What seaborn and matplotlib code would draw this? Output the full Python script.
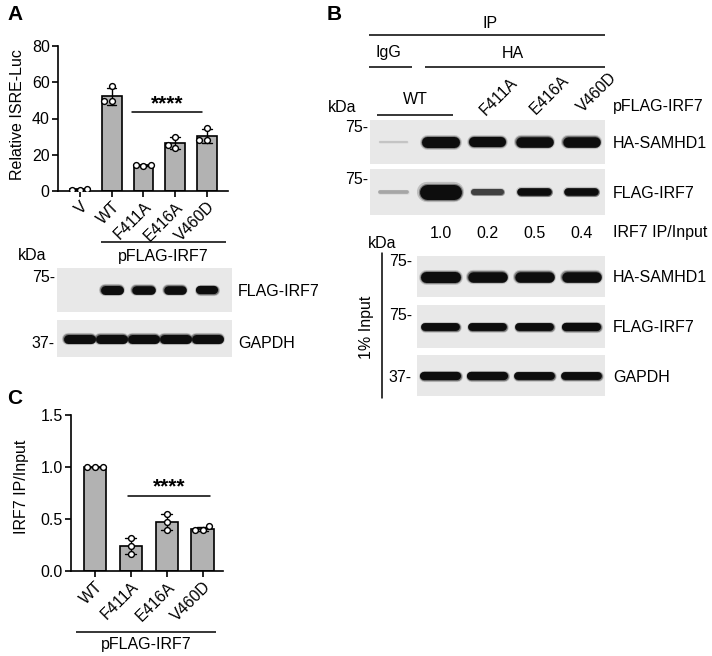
"""
Figure: IRF7 mutants — ISRE reporter, co-IP blots and IP/input quantification.
"""

import matplotlib
matplotlib.use("Agg")  # no display

import matplotlib.pyplot as plt
import numpy as np
import pandas as pd
import seaborn as sns

W, H = 712, 656

# ── Data ────────────────────────────────────────────────────────
# panel A: relative ISRE-Luc, three replicates per construct
luc_groups = ["V", "WT", "F411A", "E416A", "V460D"]
luc_v = [0.7, 1.3, 0.8]
luc_wt = [57.8, 49.5, 49.6]
luc_f411a = [14.2, 14.0, 14.3]
luc_e416a = [30.0, 24.0, 25.2]
luc_v460d = [35.0, 28.2, 28.4]

# panel C: IRF7 IP/input, three replicates
ip_groups = ["WT", "F411A", "E416A", "V460D"]
ip_wt = [1.0, 1.0, 1.0]
ip_f411a = [0.32, 0.24, 0.16]
ip_e416a = [0.55, 0.47, 0.39]
ip_v460d = [0.39, 0.43, 0.39]

# blot band strengths (0 = no band), one value per lane
a_flag_irf7 = [0.0, 1.0, 0.95, 0.95, 0.9]
a_gapdh = [1.0, 1.0, 1.0, 1.0, 1.0]
b_ip_samhd1 = [0.04, 1.0, 0.9, 0.95, 0.95]
b_ip_irf7 = [0.1, 1.0, 0.3, 0.42, 0.42]
b_ratio = ["1.0", "0.2", "0.5", "0.4"]
b_in_samhd1 = [1.0, 0.95, 0.95, 0.95]
b_in_irf7 = [0.85, 0.85, 0.85, 0.9]
b_in_gapdh = [0.9, 0.9, 0.85, 0.85]

BAR_GREY = "#b2b2b2"
BLOT_BG = "#e8e8e8"
FS = 11.5

sns.set_theme(style="ticks")
plt.rcParams["font.family"] = ["Liberation Sans", "DejaVu Sans"]
plt.rcParams.update({
    "axes.linewidth": 1.2,
    "axes.edgecolor": "black",
    "text.color": "black",
    "axes.labelcolor": "black",
    "xtick.color": "black",
    "ytick.color": "black",
})


def rect(x0, y0, x1, y1):
    """Pixel box (top-left origin) -> figure fraction rect."""
    return [x0 / W, 1 - y1 / H, (x1 - x0) / W, (y1 - y0) / H]


def long_form(groups, reps):
    rows = []
    for g, vals in zip(groups, reps):
        rows += [{"group": g, "value": v} for v in vals]
    return pd.DataFrame(rows)


def bar_panel(ax, df, order, ylim, yticks, ylabels):
    sns.barplot(
        data=df, x="group", y="value", order=order, color=BAR_GREY,
        edgecolor="black", linewidth=1.2, width=0.62, errorbar="sd",
        capsize=0.3, err_kws={"color": "black", "linewidth": 1.0}, ax=ax,
    )
    sns.swarmplot(
        data=df, x="group", y="value", order=order, color="white",
        edgecolor="black", linewidth=1.0, size=4.2, ax=ax,
    )
    ax.set_ylim(*ylim)
    ax.set_yticks(yticks)
    ax.set_yticklabels(ylabels, fontsize=FS)
    ax.set_xticks(range(len(order)))
    ax.set_xticklabels(order, rotation=45, ha="right", rotation_mode="anchor",
                       fontsize=FS)
    ax.set_xlabel("")
    ax.set_ylabel("")
    ax.tick_params(length=4, width=1.2, color="black", pad=2)
    sns.despine(ax=ax)
    ax.set_facecolor("none")


def blot(box, levels, thick_px, xlim, width=0.62):
    ax = fig.add_axes(rect(*box))
    ax.set_facecolor(BLOT_BG)
    for i, v in enumerate(levels):
        if v <= 0:
            continue
        lw = thick_px * 0.72 * (0.15 + 0.85 * v)
        shade = max(0.05, 0.85 - 0.8 * min(1.0, v * 2.5))
        for scale, a in [(1.35, 0.18), (1.15, 0.4), (1.0, 1.0)]:
            ax.hlines(0.5, i - width / 2, i + width / 2, colors=str(shade),
                      linewidths=lw * scale, alpha=a, capstyle="round")
    ax.set_xlim(*xlim)
    ax.set_ylim(0, 1)
    ax.set_xticks([])
    ax.set_yticks([])
    for s in ax.spines.values():
        s.set_visible(False)
    return ax


fig = plt.figure(figsize=(W / 100, H / 100), dpi=100)

# overlay in pixel coordinates for annotations
ov = fig.add_axes([0, 0, 1, 1], zorder=5)
ov.set_xlim(0, W)
ov.set_ylim(H, 0)
ov.axis("off")
ov.patch.set_visible(False)


def txt(x, y, s, size=FS, **kw):
    kw.setdefault("ha", "center")
    kw.setdefault("va", "center")
    ov.text(x, y, s, fontsize=size, **kw)


def hline(x0, x1, y):
    ov.plot([x0, x1], [y, y], color="black", lw=1.1, solid_capstyle="butt")


# ── Panel A ─────────────────────────────────────────────────────
ax_a = fig.add_axes(rect(58, 46, 228, 191))
df_a = long_form(luc_groups, [luc_v, luc_wt, luc_f411a, luc_e416a, luc_v460d])
bar_panel(ax_a, df_a, luc_groups, (0, 80), [0, 20, 40, 60, 80],
          ["0", "20", "40", "60", "80"])
ax_a.set_xlim(-0.69, 4.66)
ax_a.plot([1.64, 3.84], [43.6, 43.6], color="black", lw=1.1)
ax_a.text(2.74, 43.0, "****", ha="center", va="bottom", fontsize=15,
          fontweight="bold")

txt(15, 14, "A", size=15, fontweight="bold")
txt(18, 115, "Relative ISRE-Luc", rotation=90)
hline(101, 226, 242)
txt(163, 257, "pFLAG-IRF7")
txt(32, 256, "kDa")

lane_a = (-(80 - 57) / 32, 4 + (232 - 207) / 32)
blot((57, 268, 232, 312), a_flag_irf7, 9, lane_a, width=0.45)
blot((57, 320, 232, 357), a_gapdh, 9, lane_a, width=0.72)
txt(55, 277, "75-", ha="right")
txt(55, 343, "37-", ha="right")
txt(238, 291, "FLAG-IRF7", ha="left")
txt(238, 343, "GAPDH", ha="left")

# ── Panel B ─────────────────────────────────────────────────────
txt(334, 14, "B", size=15, fontweight="bold")
txt(490, 24, "IP")
hline(369, 605, 35)
txt(388, 53, "IgG")
hline(369, 412, 67)
txt(513, 53, "HA")
hline(425, 605, 67)
txt(342, 107, "kDa")
txt(415, 100, "WT")
hline(377, 453, 115)
for lab, (x, y) in zip(ip_groups[1:], [(499, 97), (550, 95), (597, 93)]):
    txt(x, y, lab, rotation=45)
txt(613, 107, "pFLAG-IRF7", ha="left")

lane_b = (-0.5, 4.5)
blot((370, 120, 605, 164), b_ip_samhd1, 11, lane_b, width=0.58)
blot((370, 169, 605, 215), b_ip_irf7, 15, lane_b, width=0.58)
txt(368, 128, "75-", ha="right")
txt(368, 180, "75-", ha="right")
txt(613, 143, "HA-SAMHD1", ha="left")
txt(613, 193, "FLAG-IRF7", ha="left")

lane_w = 235 / 5
for i, r in enumerate(b_ratio):
    txt(370 + lane_w * (i + 1.5), 233, r)
txt(613, 233, "IRF7 IP/Input", ha="left")

txt(382, 243, "kDa")
ov.plot([382, 382], [253, 398], color="black", lw=1.1)
txt(367, 327, "1% Input", rotation=90)
lane_in = (-0.5, 3.5)
blot((417, 256, 605, 297), b_in_samhd1, 11, lane_in, width=0.62)
blot((417, 305, 605, 348), b_in_irf7, 9, lane_in, width=0.66)
blot((417, 355, 605, 396), b_in_gapdh, 9, lane_in, width=0.70)
txt(412, 262, "75-", ha="right")
txt(412, 316, "75-", ha="right")
txt(412, 377, "37-", ha="right")
txt(613, 278, "HA-SAMHD1", ha="left")
txt(613, 327, "FLAG-IRF7", ha="left")
txt(613, 377, "GAPDH", ha="left")

# ── Panel C ─────────────────────────────────────────────────────
ax_c = fig.add_axes(rect(71, 415, 223, 571))
df_c = long_form(ip_groups, [ip_wt, ip_f411a, ip_e416a, ip_v460d])
bar_panel(ax_c, df_c, ip_groups, (0, 1.5), [0, 0.5, 1.0, 1.5],
          ["0.0", "0.5", "1.0", "1.5"])
ax_c.set_xlim(-0.67, 3.57)
ax_c.plot([0.92, 3.22], [0.72, 0.72], color="black", lw=1.1)
ax_c.text(2.07, 0.715, "****", ha="center", va="bottom", fontsize=15,
          fontweight="bold")

txt(15, 398, "C", size=15, fontweight="bold")
txt(22, 487, "IRF7 IP/Input", rotation=90)
hline(76, 216, 632)
txt(146, 645, "pFLAG-IRF7")

fig.savefig("out.png", dpi=100)
plt.close(fig)
